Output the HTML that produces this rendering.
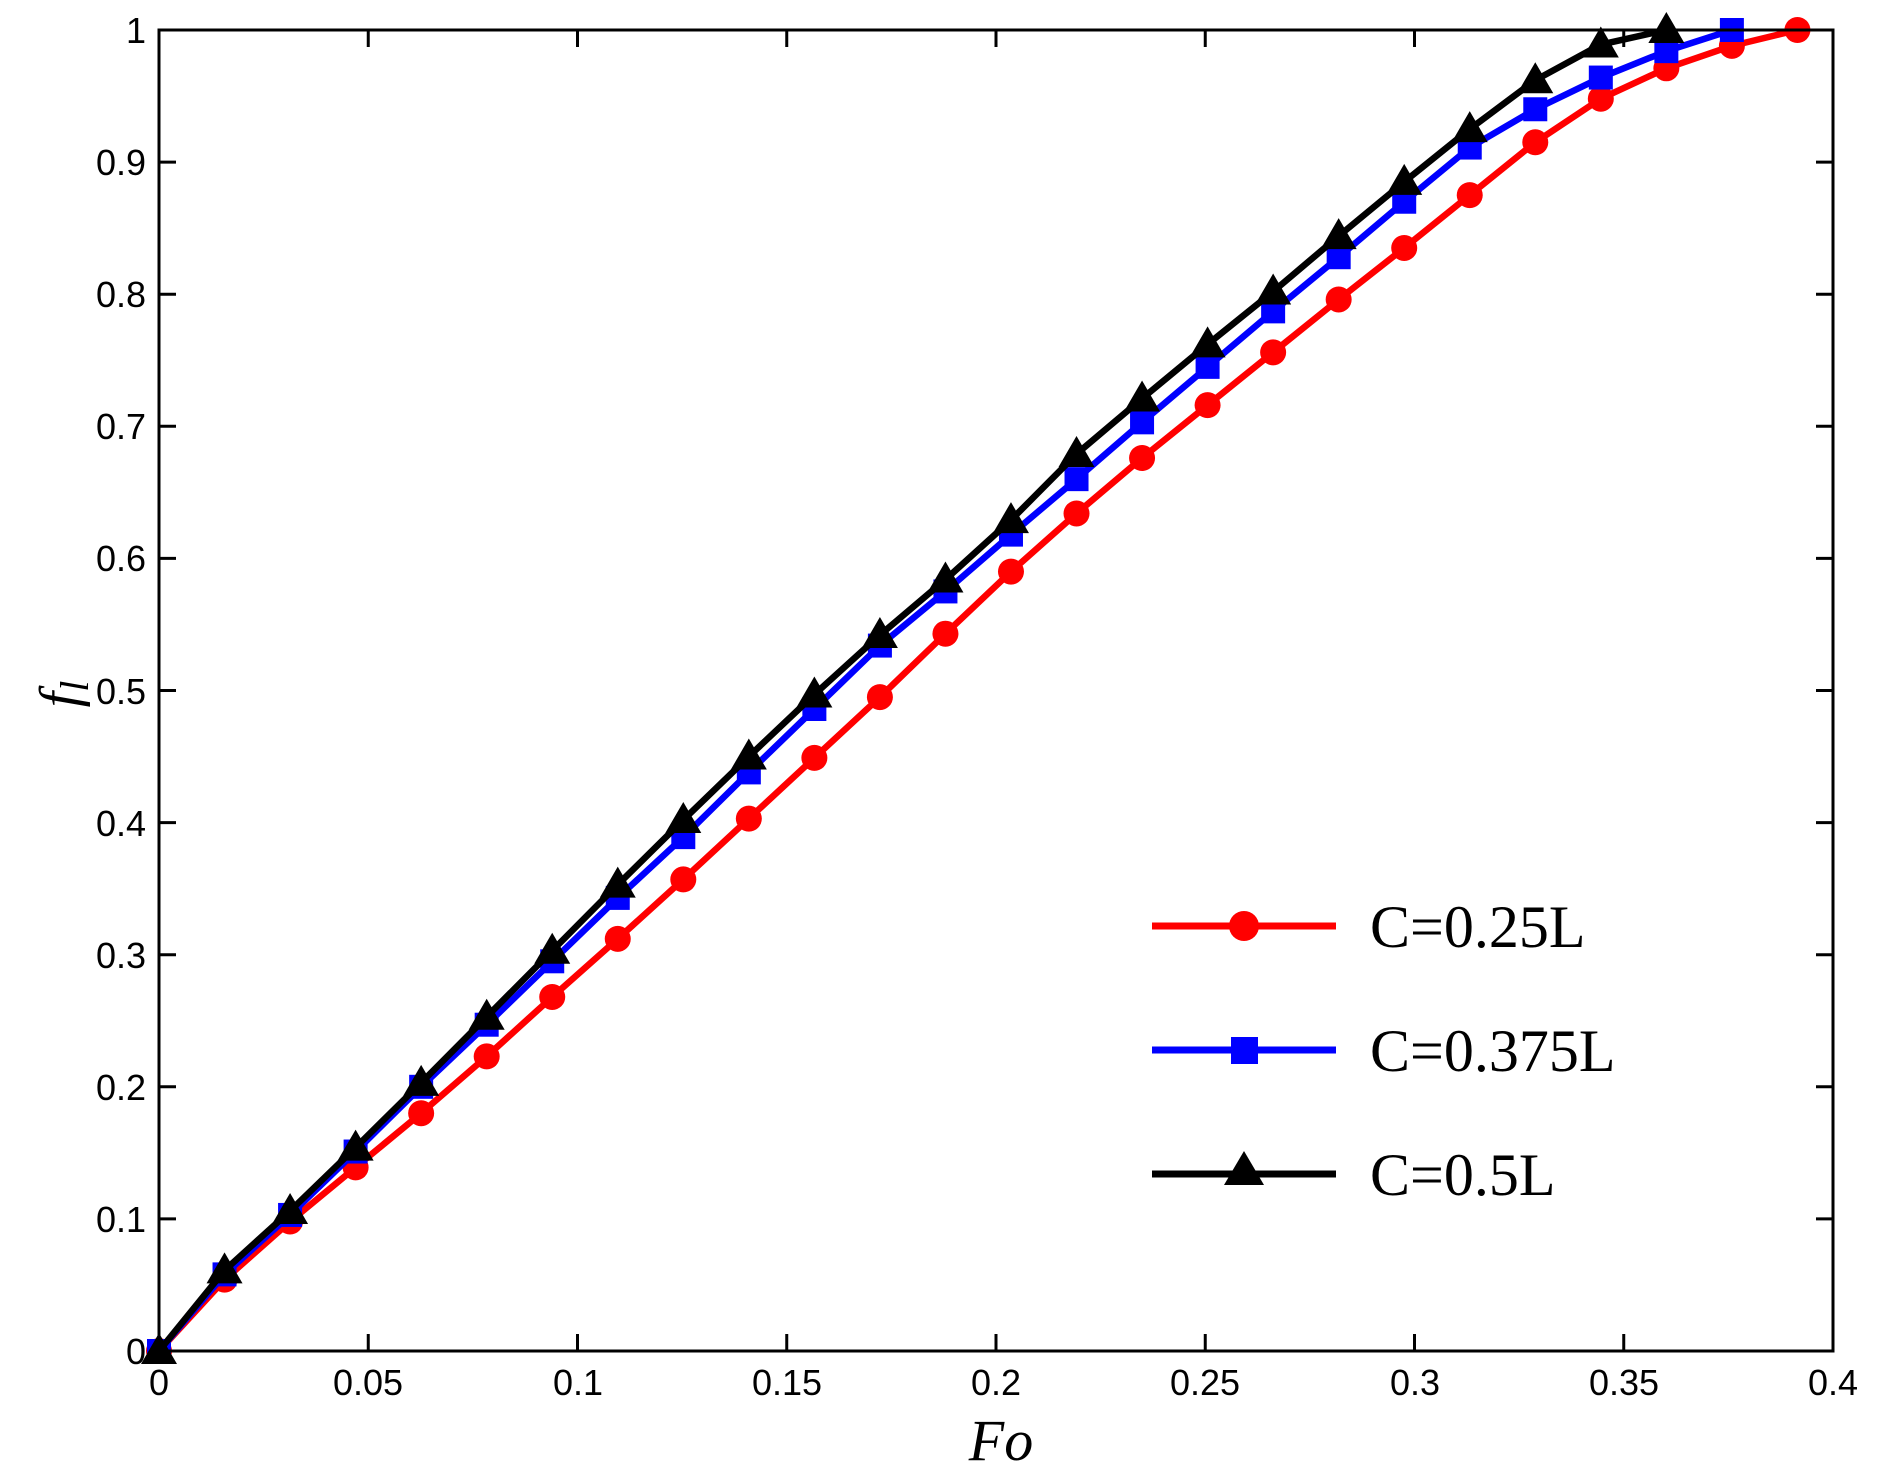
<!DOCTYPE html>
<html><head><meta charset="utf-8"><style>body{margin:0;background:#fff}svg{display:block}</style></head>
<body>
<svg id="s" width="1882" height="1482" xmlns="http://www.w3.org/2000/svg">
<rect width="1882" height="1482" fill="#fff"/>
<g id="ticks" stroke="#000" stroke-width="3"></g>
<g id="series"></g>
<rect x="159" y="30" width="1674" height="1321" fill="none" stroke="#000" stroke-width="3"/>
<g font-family="Liberation Sans, sans-serif" font-size="36" text-anchor="middle">
<text x="159" y="1395">0</text><text x="368" y="1395">0.05</text><text x="578" y="1395">0.1</text><text x="787" y="1395">0.15</text><text x="996" y="1395">0.2</text><text x="1205" y="1395">0.25</text><text x="1415" y="1395">0.3</text><text x="1624" y="1395">0.35</text><text x="1833" y="1395">0.4</text>
</g>
<g font-family="Liberation Sans, sans-serif" font-size="36" text-anchor="end">
<text x="146" y="1364">0</text><text x="146" y="1232">0.1</text><text x="146" y="1100">0.2</text><text x="146" y="968">0.3</text><text x="146" y="836">0.4</text><text x="146" y="704">0.5</text><text x="146" y="571">0.6</text><text x="146" y="439">0.7</text><text x="146" y="307">0.8</text><text x="146" y="175">0.9</text><text x="146" y="43">1</text>
</g>
<text x="1001" y="1460" font-family="Liberation Serif, serif" font-style="italic" font-size="58" text-anchor="middle">Fo</text>
<text transform="translate(78,694) rotate(-90)" font-family="Liberation Serif, serif" font-style="italic" font-size="56" text-anchor="middle">f<tspan font-size="40" dy="10">l</tspan></text>
<g stroke-width="7">
<line x1="1152" y1="926" x2="1336" y2="926" stroke="#f00"/>
<line x1="1152" y1="1050" x2="1336" y2="1050" stroke="#00f"/>
<line x1="1152" y1="1174" x2="1336" y2="1174" stroke="#000"/>
</g>
<circle cx="1244" cy="926" r="15" fill="#f00"/>
<rect x="1231" y="1037" width="27" height="27" fill="#00f"/>
<polygon points="1244,1151 1264,1185 1224,1185" fill="#000"/>
<g font-family="Liberation Serif, serif" font-size="60">
<text x="1370" y="947">C=0.25L</text><text x="1370" y="1071">C=0.375L</text><text x="1370" y="1195">C=0.5L</text>
</g>
</svg>
<script>
var X=v=>159+v*4185, Y=f=>1351-f*1321, NS="http://www.w3.org/2000/svg";
function el(t,a,p){var e=document.createElementNS(NS,t);for(var k in a)e.setAttribute(k,a[k]);p.appendChild(e);return e;}
var tk=document.getElementById('ticks');
for(var i=0;i<=8;i++){var x=X(i*0.05);el('line',{x1:x,y1:1351,x2:x,y2:1334},tk);el('line',{x1:x,y1:30,x2:x,y2:47},tk);}
for(var i=0;i<=10;i++){var y=Y(i/10);el('line',{x1:159,y1:y,x2:176,y2:y},tk);el('line',{x1:1833,y1:y,x2:1816,y2:y},tk);}
var R=[0,.054,.098,.139,.18,.223,.268,.312,.357,.403,.449,.495,.543,.59,.634,.676,.716,.756,.796,.835,.875,.915,.948,.971,.988,1];
var B=[0,.058,.103,.151,.2,.247,.295,.343,.389,.438,.486,.534,.575,.618,.66,.703,.745,.787,.828,.87,.911,.94,.964,.984,1];
var K=[0,.061,.106,.154,.203,.253,.303,.353,.402,.45,.497,.542,.584,.629,.679,.721,.762,.802,.844,.885,.925,.962,.989,1];
var g=document.getElementById('series');
function ser(d,c,m){var pts=d.map((f,i)=>[X(i*0.01566),Y(f)]);
el('polyline',{points:pts.map(p=>p.join(',')).join(' '),fill:'none',stroke:c,'stroke-width':6.5,'stroke-linejoin':'round'},g);
pts.forEach(p=>{if(m=='c')el('circle',{cx:p[0],cy:p[1],r:13,fill:c},g);
else if(m=='s')el('rect',{x:p[0]-12,y:p[1]-12,width:24,height:24,fill:c},g);
else el('polygon',{points:(p[0])+','+(p[1]-18)+' '+(p[0]+18)+','+(p[1]+13)+' '+(p[0]-18)+','+(p[1]+13),fill:c},g);});}
ser(R,'#f00','c');ser(B,'#00f','s');ser(K,'#000','t');
</script>
</body></html>
